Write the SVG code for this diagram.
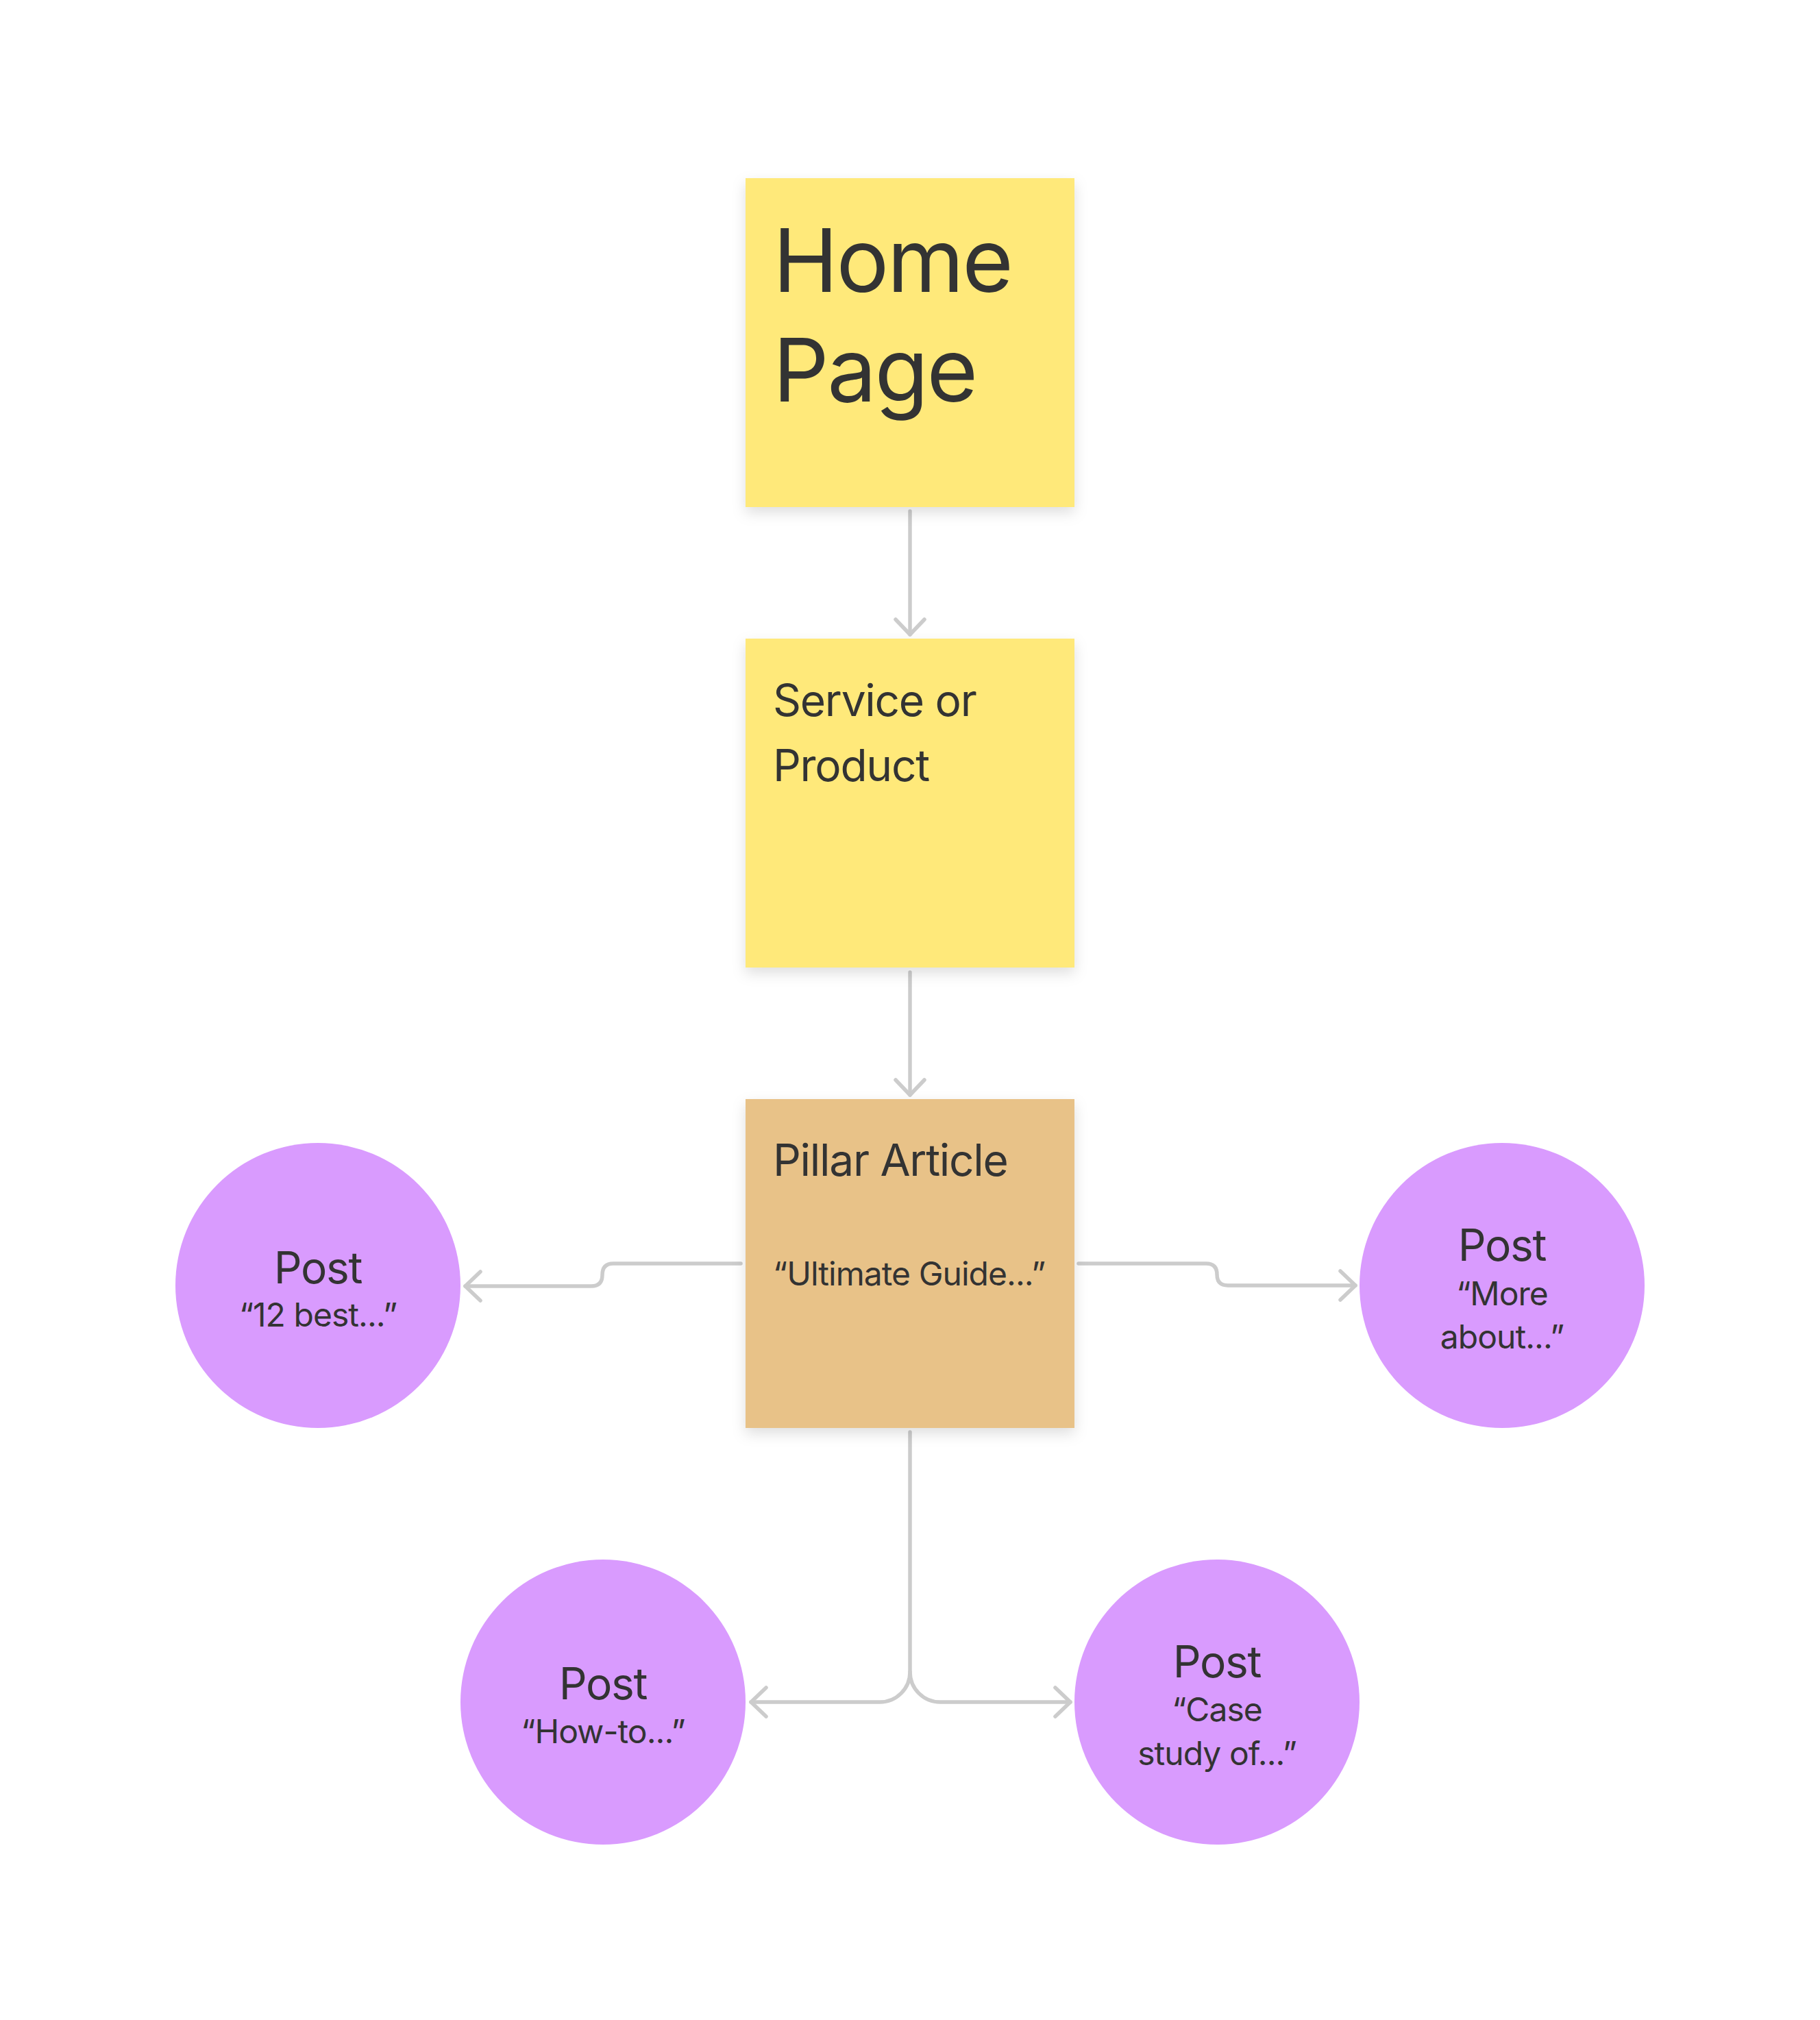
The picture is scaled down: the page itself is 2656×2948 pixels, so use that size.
<svg xmlns="http://www.w3.org/2000/svg" width="2656" height="2948" viewBox="0 0 2656 2948">
<style>
.t{font-family:Inter,"Liberation Sans",sans-serif;fill:#333333;letter-spacing:-0.02em}
.c{text-anchor:middle}
.con{fill:none;stroke:#cccccc;stroke-width:5.5;stroke-linecap:round;stroke-linejoin:round}
.yellow{fill:#FFE97A}
.tan{fill:#E8C288}
.purple{fill:#D99BFE}
</style>
<defs>
<filter id="sh" x="-10%" y="-10%" width="120%" height="130%">
<feDropShadow dx="0" dy="8" stdDeviation="10" flood-color="#000" flood-opacity="0.13"/>
</filter>
<marker id="ah" markerUnits="userSpaceOnUse" markerWidth="60" markerHeight="60" refX="30" refY="30" orient="auto" viewBox="0 0 60 60">
<path d="M8,9 L30,30 L8,51" fill="none" stroke="#cccccc" stroke-width="5.5" stroke-linecap="round" stroke-linejoin="round"/>
</marker>
</defs>
<rect width="2656" height="2948" fill="#ffffff"/>
<g id="connectors">
<path class="con" d="M1328,746 V926" marker-end="url(#ah)"/>
<path class="con" d="M1328,1419 V1598" marker-end="url(#ah)"/>
<path class="con" d="M1081,1844 H895 Q879,1844 879,1860.5 Q879,1877 863,1877 H679" marker-end="url(#ah)"/>
<path class="con" d="M1574,1844 H1760 Q1776,1844 1776,1860 Q1776,1876 1792,1876 H1978" marker-end="url(#ah)"/>
<path class="con" d="M1328,2090 V2440 A44,44 0 0 1 1284,2484 H1096" marker-end="url(#ah)"/>
<path class="con" d="M1328,2440 A44,44 0 0 0 1372,2484 H1562" marker-end="url(#ah)"/>
</g>
<g id="home-page">
<rect class="yellow" x="1088" y="260" width="480" height="480" filter="url(#sh)"/>
<text class="t" x="1128" y="426" font-size="128">Home</text>
<text class="t" x="1128" y="586" font-size="128">Page</text>
</g>
<g id="service-or-product">
<rect class="yellow" x="1088" y="932" width="480" height="480" filter="url(#sh)"/>
<text class="t" x="1128" y="1045" font-size="64">Service or</text>
<text class="t" x="1128" y="1140" font-size="64">Product</text>
</g>
<g id="pillar-article">
<rect class="tan" x="1088" y="1604" width="480" height="480" filter="url(#sh)"/>
<text class="t" x="1128" y="1716" font-size="64">Pillar Article</text>
<text class="t" x="1128" y="1876" font-size="48">“Ultimate Guide...”</text>
</g>
<g id="post-12-best">
<circle class="purple" cx="464" cy="1876" r="208"/>
<text class="t c" x="464" y="1873" font-size="64">Post</text>
<text class="t c" x="464" y="1936" font-size="48">“12 best...”</text>
</g>
<g id="post-more-about">
<circle class="purple" cx="2192" cy="1876" r="208"/>
<text class="t c" x="2192" y="1840" font-size="64">Post</text>
<text class="t c" x="2192" y="1905" font-size="48">“More</text>
<text class="t c" x="2192" y="1968" font-size="48">about...”</text>
</g>
<g id="post-how-to">
<circle class="purple" cx="880" cy="2484" r="208"/>
<text class="t c" x="880" y="2480" font-size="64">Post</text>
<text class="t c" x="880" y="2544" font-size="48">“How-to...”</text>
</g>
<g id="post-case-study">
<circle class="purple" cx="1776" cy="2484" r="208"/>
<text class="t c" x="1776" y="2448" font-size="64">Post</text>
<text class="t c" x="1776" y="2512" font-size="48">“Case</text>
<text class="t c" x="1776" y="2576" font-size="48">study of...”</text>
</g>
</svg>
